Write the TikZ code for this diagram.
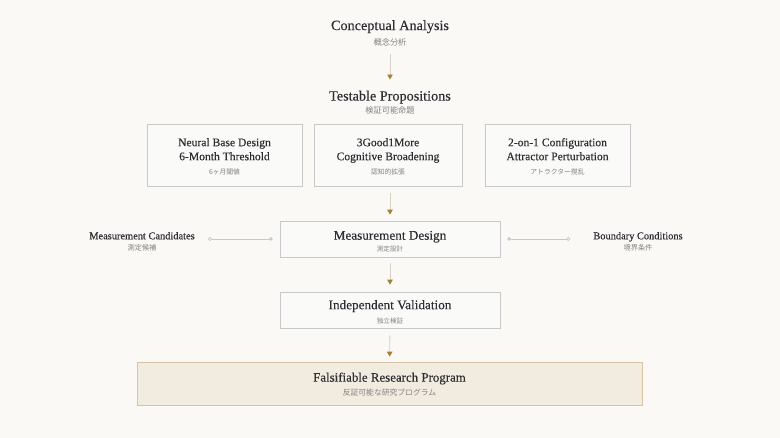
\documentclass[tikz,border=0pt]{standalone}
\usepackage{fontspec}
\setmainfont{Liberation Serif}[FakeBold=0.25]
\newfontfamily\jpfont{Noto Sans CJK JP}
\usetikzlibrary{arrows.meta, positioning}
\definecolor{bg}{RGB}{250, 249, 246}
\definecolor{ink}{RGB}{45, 45, 50}
\definecolor{sub}{RGB}{130, 130, 130}
\definecolor{frame}{RGB}{200, 200, 200}
\definecolor{paper}{RGB}{250, 250, 249}
\definecolor{stem}{RGB}{215, 208, 195}
\definecolor{gold}{RGB}{166, 128, 52}
\definecolor{wire}{RGB}{200, 200, 200}
\definecolor{goal}{RGB}{242, 235, 223}
\definecolor{goalframe}{RGB}{214, 197, 160}
\newcommand{\jp}[2][6.8]{{\jpfont\fontsize{#1}{8}\selectfont\color{sub}#2}}
\newcommand{\pad}[1]{\rule{0pt}{#1}}
\tikzset{
    stage/.style={align=center, inner sep=0pt, text=ink, font=\fontsize{14.2}{15}\selectfont},
    box/.style={rectangle, draw=frame, fill=paper, line width=0.7pt, align=center, text=ink, inner sep=0pt},
    side/.style={align=center, inner sep=0pt, text=ink, font=\fontsize{10.4}{12}\selectfont},
    flow/.style={draw=stem, line width=0.9pt, -{Triangle[length=5pt, width=5.5pt, color=gold]}},
    link/.style={draw=wire, line width=0.7pt, {Circle[open, length=4pt]}-{Circle[length=3.5pt]}}
}

\begin{document}
\begin{tikzpicture}[x=1pt, y=1pt]
    \fill[bg] (0,0) rectangle (780,-438);
    \useasboundingbox (0,0) rectangle (780,-438);

    \node[stage] (concept) at (390,-33) {Conceptual Analysis\\[0pt]\jp[8.2]{概念分析}};
    \node[stage] (props) at (390,-102.5) {Testable Propositions\\[-2pt]\jp[8.2]{検証可能命題}};

    \node[box, minimum width=155, minimum height=62, font=\fontsize{11.6}{14}\selectfont] (neural) at (224.5,-155) {\pad{11pt}Neural Base Design\\6-Month Threshold\\[0pt]\jp{6ヶ月閾値}};
    \node[box, minimum width=148, minimum height=62, font=\fontsize{11.6}{14}\selectfont] (good) at (388,-155) {\pad{11pt}3Good1More\\Cognitive Broadening\\[0pt]\jp{認知的拡張}};
    \node[box, minimum width=145, minimum height=62, font=\fontsize{11.6}{14}\selectfont] (attract) at (557.5,-155) {\pad{11pt}2-on-1 Configuration\\Attractor Perturbation\\[0pt]\jp{アトラクター撹乱}};

    \node[box, minimum width=220, minimum height=36, font=\fontsize{13.2}{14}\selectfont] (design) at (390,-239) {\pad{14pt}Measurement Design\\[-2pt]\jp[6.6]{測定設計}};
    \node[side] (cand) at (142,-241.5) {Measurement Candidates\\[-1pt]\jp[7.2]{測定候補}};
    \node[side] (bound) at (638,-241.5) {Boundary Conditions\\[-1pt]\jp[7.2]{境界条件}};

    \node[box, minimum width=220, minimum height=36, font=\fontsize{13.2}{14}\selectfont] (valid) at (390,-310) {\pad{13pt}Independent Validation\\[0pt]\jp[6.6]{独立検証}};

    \node[box, draw=goalframe, fill=goal, minimum width=505, minimum height=43, font=\fontsize{12.9}{15}\selectfont] (program) at (389.5,-383.5) {\pad{11pt}Falsifiable Research Program\\[-1pt]\jp[7.8]{反証可能な研究プログラム}};

    \draw[flow, shorten <=8pt, shorten >=11pt] (concept) -- (props);
    \draw[flow, shorten <=7pt, shorten >=6pt] (good.south -| design.north) -- (design.north);
    \draw[flow, shorten <=6pt, shorten >=7pt] (design) -- (valid);
    \draw[flow, shorten <=7pt, shorten >=5pt] (valid) -- (program);
    \draw[link, shorten <=13pt, shorten >=7pt] (cand.east |- design.west) -- (design.west);
    \draw[link, shorten <=23pt, shorten >=7pt] (bound.west |- design.east) -- (design.east);
\end{tikzpicture}
\end{document}
